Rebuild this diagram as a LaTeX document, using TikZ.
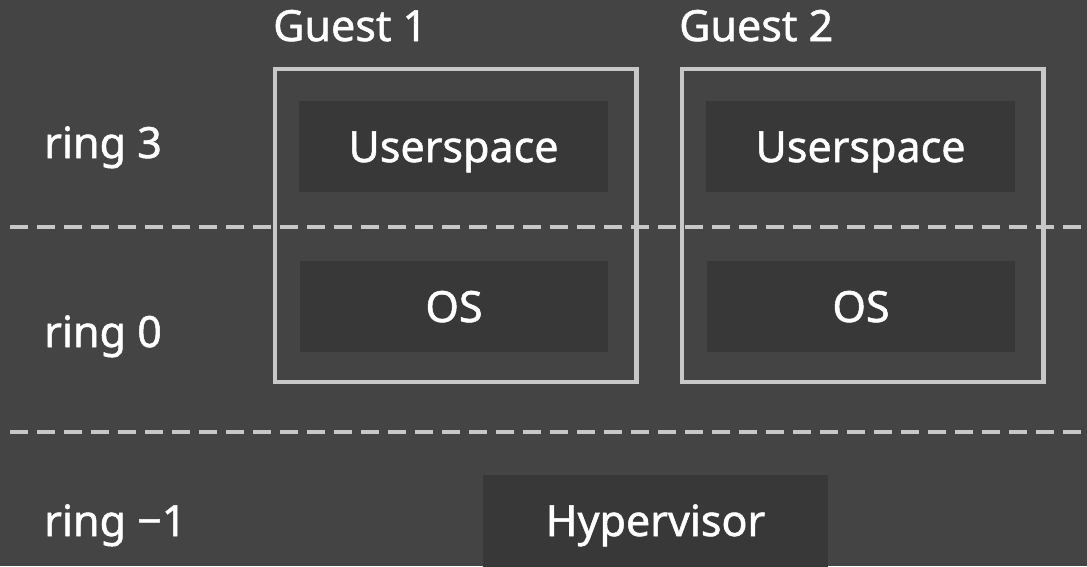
\documentclass[tikz,border=0pt]{standalone}
\usepackage{fontspec}
\setmainfont{Noto Sans}[FakeBold=1.2]
\definecolor{bg}{HTML}{444444}
\definecolor{boxfill}{HTML}{383838}
\definecolor{edge}{HTML}{C8C8C8}
\begin{document}
\begin{tikzpicture}[x=1pt,y=-1pt,
  lbl/.style={text=white,font=\fontsize{43}{50}\selectfont\bfseries,inner sep=0pt},
  layer/.style={fill=boxfill,draw=none,inner sep=0pt,text=white,text height=31pt,text depth=0pt,font=\fontsize{43}{50}\selectfont\bfseries},
  guestbox/.style={draw=edge,line width=4.5pt,fill=none},
  sep/.style={draw=edge,line width=4.5pt,dash pattern=on 18pt off 9pt}]
\fill[bg] (0,0) rectangle (1087,566);
\useasboundingbox (0,0) rectangle (1087,566);
\clip (0,0) rectangle (1087,566);
% separators
\coordinate (s1a) at (10,227); \coordinate (s1b) at (1087,227);
\coordinate (s2a) at (10,432); \coordinate (s2b) at (1087,432);
\draw[sep] (s1a) -- (s1b);
\draw[sep] (s2a) -- (s2b);
% guest boxes
\draw[guestbox] (275,69) rectangle (636.5,382);
\draw[guestbox] (682,69) rectangle (1043.5,382);
% inner layers
\node[layer,minimum width=309pt,minimum height=91pt] (us1) at (453.5,146.5) {Userspace};
\node[layer,minimum width=308pt,minimum height=91pt] (os1) at (454,306.5) {OS};
\node[layer,minimum width=309pt,minimum height=91pt] (us2) at (860.5,146.5) {Userspace};
\node[layer,minimum width=308pt,minimum height=91pt] (os2) at (861,306.5) {OS};
\node[layer,minimum width=345pt,minimum height=150pt,anchor=north west] (hv) at (483,475) {};
\node[lbl,anchor=base] (hvt) at (655.5,536) {Hypervisor};
% labels
\node[lbl,anchor=base west] (g1) at (273,41) {Guest 1};
\node[lbl,anchor=base west] (g2) at (679,41) {Guest 2};
\node[lbl,anchor=base west] (r3) at (44,158) {ring 3};
\node[lbl,anchor=base west] (r0) at (44,347) {ring 0};
\node[lbl,anchor=base west] (rm1) at (44,536) {ring −1};
\end{tikzpicture}
\end{document}
